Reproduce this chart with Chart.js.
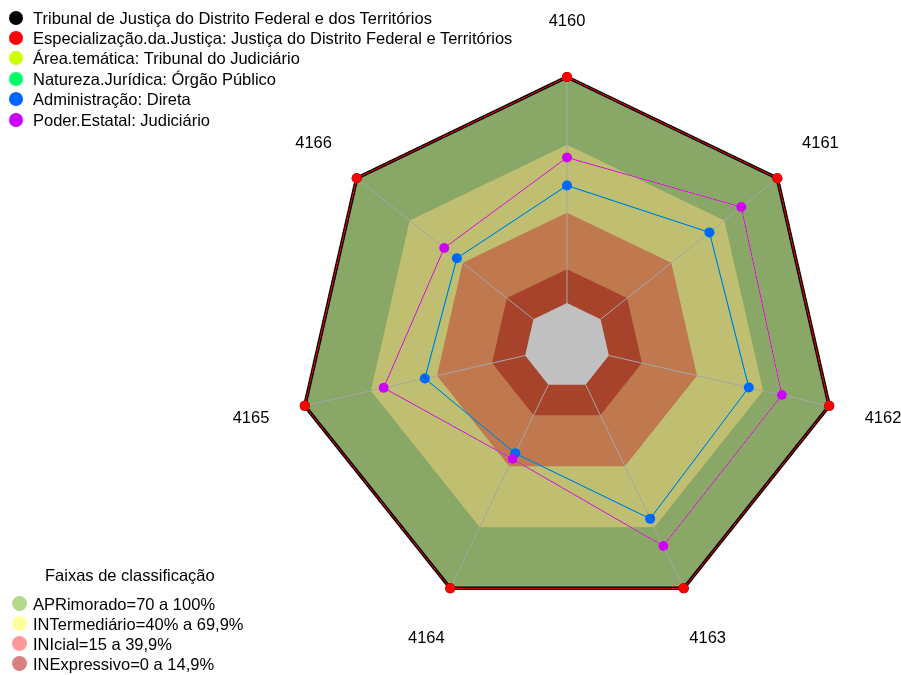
<!DOCTYPE html>
<html>
<head>
<meta charset="utf-8">
<script src="https://cdn.jsdelivr.net/npm/chart.js@4.4.1/dist/chart.umd.min.js"></script>
<style>
  html, body { margin: 0; padding: 0; background: #fff; }
  #wrap { position: relative; width: 901px; height: 675px; overflow: hidden; font-family: "Liberation Sans", Arial, sans-serif; }
  #wrap canvas { position: absolute; left: 0; top: 0; }
  .leg { position: absolute; left: 0; font-size: 16.5px; color: #000; }
  .row { position: absolute; white-space: nowrap; line-height: 20px; height: 20px; }
  .dot { position: absolute; border-radius: 50%; }
  .txt { position: absolute; left: 33px; top: 0; }
  #faixasTitle { position: absolute; left: 45px; top: 566px; font-size: 16.5px; white-space: nowrap; }
</style>
</head>
<body>
<div id="wrap">
  <canvas id="radar"></canvas>
  <div id="legSeries" class="leg"></div>
  <div id="faixasTitle">Faixas de classificação</div>
  <div id="legFaixas" class="leg"></div>
</div>
<script>
// axes of the radar (clockwise from the top)
const AXES = ["4160", "4161", "4162", "4163", "4164", "4165", "4166"];

// series, in legend order
const SERIES_NAMES = [
  "Tribunal de Justiça do Distrito Federal e dos Territórios",
  "Especialização.da.Justiça: Justiça do Distrito Federal e Territórios",
  "Área.temática: Tribunal do Judiciário",
  "Natureza.Jurídica: Órgão Público",
  "Administração: Direta",
  "Poder.Estatal: Judiciário"
];
const SERIES_COLORS = ["#000000", "#FF0000", "#CCFF00", "#00FF66", "#0066FF", "#CC00FF"];

const TRIBUNAL       = [100, 100, 100, 100, 100, 100, 100];
const ESPECIALIZACAO = [100, 100, 100, 100, 100, 100, 100];
const AREA_TEMATICA  = [64.4, 79.6, 78.5, 79.2, 36.5, 64.2, 50.5];
const NATUREZA       = [52.0, 61.6, 63.5, 65.8, 33.7, 45.5, 43.3];
const ADMINISTRACAO  = [52.0, 61.6, 63.5, 65.8, 33.7, 45.5, 43.3];
const PODER_ESTATAL  = [64.4, 79.6, 78.5, 79.2, 36.5, 64.2, 50.5];

const SERIES_DATA = [TRIBUNAL, ESPECIALIZACAO, AREA_TEMATICA, NATUREZA, ADMINISTRACAO, PODER_ESTATAL];

// classification bands (upper limit of each band, outer to inner)
const BAND_LIMITS = [100, 70, 40, 15, 0];
const BAND_COLORS = ["#89a767", "#c0bf71", "#c0784e", "#a7422b", "#c0c0c0"];

// legend of the bands
const FAIXAS_LABELS = [
  "APRimorado=70 a 100%",
  "INTermediário=40% a 69,9%",
  "INIcial=15 a 39,9%",
  "INExpressivo=0 a 14,9%"
];
const FAIXAS_COLORS = ["#b3d98a", "#ffff99", "#ff9999", "#d98080"];

const R_MIN = -19, R_MAX = 100;

// ---- html legends ----
function buildLegend(el, names, colors, top0, step, dotX, dotD) {
  names.forEach((name, i) => {
    const row = document.createElement("div");
    row.className = "row";
    row.style.top = (top0 + i * step) + "px";
    row.style.left = "0px";
    const dot = document.createElement("div");
    dot.className = "dot";
    dot.style.width = dot.style.height = dotD + "px";
    dot.style.left = (dotX - dotD / 2) + "px";
    dot.style.top = (10 - dotD / 2) + "px";
    dot.style.background = colors[i];
    const t = document.createElement("div");
    t.className = "txt";
    t.textContent = name;
    row.appendChild(dot);
    row.appendChild(t);
    el.appendChild(row);
  });
}
buildLegend(document.getElementById("legSeries"), SERIES_NAMES, SERIES_COLORS, 7.5, 20.4, 16, 14);
buildLegend(document.getElementById("legFaixas"), FAIXAS_LABELS, FAIXAS_COLORS, 593.5, 20, 19.5, 15);

// ---- datasets ----
const datasets = [];

// series: later legend entries are drawn on top (lower order = drawn later)
SERIES_DATA.forEach((d, i) => {
  const isBlack = i === 0;
  datasets.push({
    label: SERIES_NAMES[i],
    data: d,
    borderColor: SERIES_COLORS[i],
    backgroundColor: SERIES_COLORS[i],
    pointBackgroundColor: SERIES_COLORS[i],
    borderWidth: isBlack ? 3.5 : 1,
    pointRadius: 5,
    pointBorderWidth: 0,
    pointHoverRadius: 5,
    fill: false,
    order: 10 - i
  });
});

// bands: filled to the centre, outermost drawn first
BAND_LIMITS.forEach((lim, i) => {
  datasets.push({
    label: "band" + lim,
    data: AXES.map(() => lim),
    borderWidth: 0,
    borderColor: "rgba(0,0,0,0)",
    backgroundColor: BAND_COLORS[i],
    pointRadius: 0,
    fill: "start",
    order: 30 - i,
    isLastBand: i === BAND_LIMITS.length - 1
  });
});

// angle lines drawn over the bands, from value 0 to the outer edge
const axisLines = {
  id: "axisLines",
  afterDatasetDraw(chart, args) {
    const ds = chart.data.datasets[args.index];
    if (!ds.isLastBand) return;
    const sc = chart.scales.r;
    const ctx = chart.ctx;
    ctx.save();
    ctx.strokeStyle = "#a6a6a6";
    ctx.lineWidth = 1;
    AXES.forEach((_, i) => {
      const a = sc.getPointPositionForValue(i, 0);
      const b = sc.getPointPositionForValue(i, R_MAX);
      ctx.beginPath();
      ctx.moveTo(a.x, a.y);
      ctx.lineTo(b.x, b.y);
      ctx.stroke();
    });
    ctx.restore();
  }
};

// axis names, centred beyond the outer edge
const axisNames = {
  id: "axisNames",
  afterDraw(chart) {
    const sc = chart.scales.r;
    const ctx = chart.ctx;
    ctx.save();
    ctx.font = '16.5px "Liberation Sans", Arial, sans-serif';
    ctx.fillStyle = "#000";
    ctx.textAlign = "center";
    ctx.textBaseline = "middle";
    AXES.forEach((name, i) => {
      const p = sc.getPointPosition(i, sc.drawingArea * 1.205);
      ctx.fillText(name, p.x, p.y);
    });
    ctx.restore();
  }
};

new Chart(document.getElementById("radar"), {
  type: "radar",
  data: { labels: AXES, datasets: datasets },
  options: {
    responsive: true,
    maintainAspectRatio: false,
    animation: false,
    elements: { line: { tension: 0 } },
    layout: { padding: { left: 298, top: 77, right: 65, bottom: 60 } },
    plugins: { legend: { display: false }, tooltip: { enabled: false } },
    scales: {
      r: {
        min: R_MIN,
        max: R_MAX,
        ticks: { display: false },
        grid: { display: false },
        angleLines: { display: false },
        pointLabels: { display: false }
      }
    }
  },
  plugins: [axisLines, axisNames]
});
</script>
</body>
</html>
